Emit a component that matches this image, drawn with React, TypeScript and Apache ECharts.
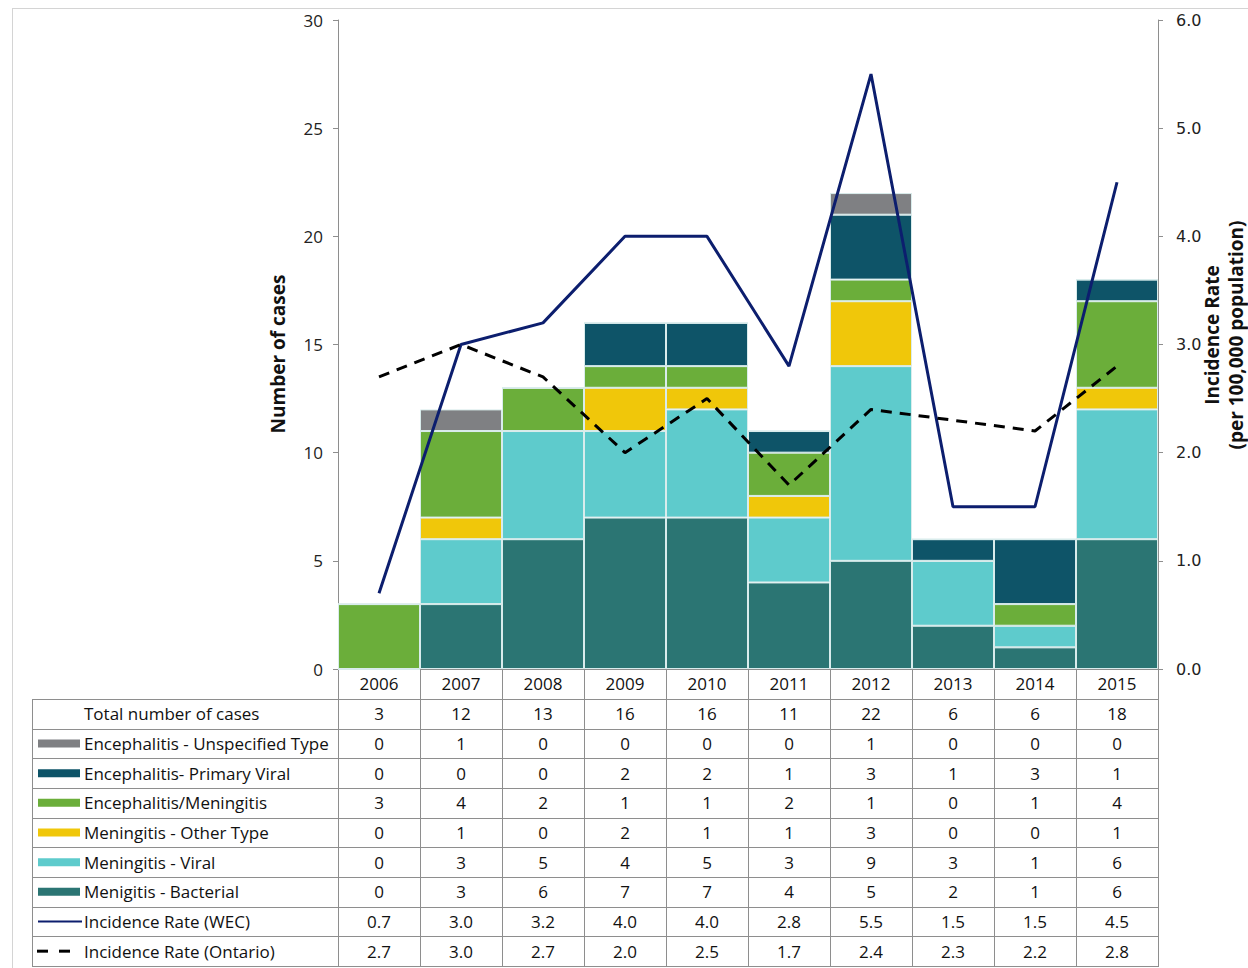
import React, { useEffect, useRef } from "react";
import * as echarts from "echarts";

const years = ["2006", "2007", "2008", "2009", "2010", "2011", "2012", "2013", "2014", "2015"];
const totals = [3, 12, 13, 16, 16, 11, 22, 6, 6, 18];
const unspecified = [0, 1, 0, 0, 0, 0, 1, 0, 0, 0];
const primaryViral = [0, 0, 0, 2, 2, 1, 3, 1, 3, 1];
const encMen = [3, 4, 2, 1, 1, 2, 1, 0, 1, 4];
const menOther = [0, 1, 0, 2, 1, 1, 3, 0, 0, 1];
const menViral = [0, 3, 5, 4, 5, 3, 9, 3, 1, 6];
const menBacterial = [0, 3, 6, 7, 7, 4, 5, 2, 1, 6];
const rateWEC = [0.7, 3.0, 3.2, 4.0, 4.0, 2.8, 5.5, 1.5, 1.5, 4.5];
const rateOntario = [2.7, 3.0, 2.7, 2.0, 2.5, 1.7, 2.4, 2.3, 2.2, 2.8];
const leftTicks = { min: 0, max: 30, interval: 5 };
const rightTicks = { min: 0, max: 6, interval: 1 };

const C = {
  unspecified: "#7f8083",
  primaryViral: "#0e5468",
  encMen: "#6bae3a",
  other: "#f0c70a",
  viral: "#5ecbcc",
  bacterial: "#2b7573",
  wec: "#0c1e6e",
  ont: "#000000",
};

const barSeries = [
  { name: "Menigitis - Bacterial", data: menBacterial, color: C.bacterial },
  { name: "Meningitis - Viral", data: menViral, color: C.viral },
  { name: "Meningitis - Other Type", data: menOther, color: C.other },
  { name: "Encephalitis/Meningitis", data: encMen, color: C.encMen },
  { name: "Encephalitis- Primary Viral", data: primaryViral, color: C.primaryViral },
  { name: "Encephalitis - Unspecified Type", data: unspecified, color: C.unspecified },
];

const tableRows = [
  { label: "Total number of cases", values: totals.map(String), icon: "none", color: "" },
  { label: "Encephalitis - Unspecified Type", values: unspecified.map(String), icon: "rect", color: C.unspecified },
  { label: "Encephalitis- Primary Viral", values: primaryViral.map(String), icon: "rect", color: C.primaryViral },
  { label: "Encephalitis/Meningitis", values: encMen.map(String), icon: "rect", color: C.encMen },
  { label: "Meningitis - Other Type", values: menOther.map(String), icon: "rect", color: C.other },
  { label: "Meningitis - Viral", values: menViral.map(String), icon: "rect", color: C.viral },
  { label: "Menigitis - Bacterial", values: menBacterial.map(String), icon: "rect", color: C.bacterial },
  { label: "Incidence Rate (WEC)", values: rateWEC.map((v) => v.toFixed(1)), icon: "line", color: C.wec },
  { label: "Incidence Rate (Ontario)", values: rateOntario.map((v) => v.toFixed(1)), icon: "dash", color: C.ont },
];

const W = 1248;
const H = 968;
const PLOT_L = 338;
const PLOT_R = 1158;
const PLOT_T = 20;
const PLOT_B = 669;
const HEADER_B = 699;
const TABLE_B = 966;
const TABLE_L = 32;
const FONT = "'Open Sans', 'Noto Sans', sans-serif";
const GRID_COLOR = "#8e8e8e";

export default function App() {
  const ref = useRef<HTMLDivElement>(null);
  useEffect(() => {
    if (!ref.current) return;
    const chart = echarts.init(ref.current, null, { renderer: "svg" });
    const n = years.length;
    const colW = (PLOT_R - PLOT_L) / n;
    const rowH = (TABLE_B - HEADER_B) / tableRows.length;
    const g: any[] = [];
    g.push({ type: "line", shape: { x1: 12, y1: 8.5, x2: W, y2: 8.5 }, style: { stroke: "#d4d4d4", lineWidth: 1 } });
    g.push({ type: "line", shape: { x1: 12.5, y1: 8, x2: 12.5, y2: H }, style: { stroke: "#d4d4d4", lineWidth: 1 } });
    g.push({ type: "line", shape: { x1: PLOT_L, y1: PLOT_B + 0.5, x2: PLOT_R, y2: PLOT_B + 0.5 }, style: { stroke: GRID_COLOR, lineWidth: 1 } });
    for (let i = 0; i <= n; i++) {
      const x = Math.round(PLOT_L + i * colW) + 0.5;
      g.push({ type: "line", shape: { x1: x, y1: PLOT_B, x2: x, y2: TABLE_B }, style: { stroke: GRID_COLOR, lineWidth: 1 } });
    }
    g.push({ type: "line", shape: { x1: TABLE_L + 0.5, y1: HEADER_B, x2: TABLE_L + 0.5, y2: TABLE_B }, style: { stroke: GRID_COLOR, lineWidth: 1 } });
    for (let r = 0; r <= tableRows.length; r++) {
      const y = Math.round(HEADER_B + r * rowH) + 0.5;
      g.push({ type: "line", shape: { x1: TABLE_L, y1: y, x2: PLOT_R + 1, y2: y }, style: { stroke: GRID_COLOR, lineWidth: 1 } });
    }
    tableRows.forEach((row, r) => {
      const cy = HEADER_B + (r + 0.5) * rowH;
      g.push({
        type: "text",
        style: { text: row.label, x: 84, y: cy, textVerticalAlign: "middle", textAlign: "left", font: `17px ${FONT}`, fill: "#111" },
      });
      if (row.icon === "rect") {
        g.push({ type: "rect", shape: { x: 38, y: cy - 4, width: 42, height: 8 }, style: { fill: row.color } });
      } else if (row.icon === "line") {
        g.push({ type: "line", shape: { x1: 38, y1: cy, x2: 82, y2: cy }, style: { stroke: row.color, lineWidth: 2 } });
      } else if (row.icon === "dash") {
        g.push({ type: "line", shape: { x1: 37, y1: cy, x2: 48, y2: cy }, style: { stroke: row.color, lineWidth: 3 } });
        g.push({ type: "line", shape: { x1: 59, y1: cy, x2: 70, y2: cy }, style: { stroke: row.color, lineWidth: 3 } });
      }
      row.values.forEach((v, i) => {
        g.push({
          type: "text",
          style: { text: v, x: PLOT_L + (i + 0.5) * colW, y: cy, textVerticalAlign: "middle", textAlign: "center", font: `17px ${FONT}`, fill: "#111" },
        });
      });
    });
    g.push({
      type: "text",
      x: 278,
      y: 354,
      rotation: Math.PI / 2,
      style: { text: "Number of cases", textAlign: "center", textVerticalAlign: "middle", font: `bold 19px ${FONT}`, fill: "#111" },
    });
    g.push({
      type: "text",
      x: 1212,
      y: 335,
      rotation: Math.PI / 2,
      style: { text: "Incidence Rate", textAlign: "center", textVerticalAlign: "middle", font: `bold 19px ${FONT}`, fill: "#111" },
    });
    g.push({
      type: "text",
      x: 1236,
      y: 335,
      rotation: Math.PI / 2,
      style: { text: "(per 100,000 population)", textAlign: "center", textVerticalAlign: "middle", font: `bold 19px ${FONT}`, fill: "#111" },
    });

    const option: any = {
      animation: false,
      backgroundColor: "#ffffff",
      grid: { left: PLOT_L, right: W - PLOT_R, top: PLOT_T, bottom: H - PLOT_B, containLabel: false },
      xAxis: {
        type: "category",
        data: years,
        axisLine: { show: false },
        axisTick: { show: false },
        axisLabel: { margin: 6, fontSize: 17, fontFamily: FONT, color: "#111" },
      },
      yAxis: [
        {
          type: "value",
          ...leftTicks,
          position: "left",
          axisLine: { show: true, lineStyle: { color: GRID_COLOR } },
          axisTick: { show: true, length: 5, lineStyle: { color: GRID_COLOR } },
          splitLine: { show: false },
          axisLabel: { margin: 15, fontSize: 17, fontFamily: FONT, color: "#222" },
        },
        {
          type: "value",
          ...rightTicks,
          position: "right",
          axisLine: { show: true, lineStyle: { color: GRID_COLOR } },
          axisTick: { show: true, length: 5, lineStyle: { color: GRID_COLOR } },
          splitLine: { show: false },
          axisLabel: { margin: 18, fontSize: 16, fontFamily: "'DejaVu Sans', sans-serif", color: "#222", formatter: (v: number) => v.toFixed(1) },
        },
      ],
      series: [
        ...barSeries.map((s) => ({
          name: s.name,
          type: "bar",
          stack: "cases",
          data: s.data,
          barCategoryGap: "0%",
          itemStyle: { color: s.color, borderColor: "#d9ecec", borderWidth: 1 },
        })),
        {
          name: "Incidence Rate (WEC)",
          type: "line",
          yAxisIndex: 1,
          data: rateWEC,
          showSymbol: false,
          symbol: "none",
          lineStyle: { color: C.wec, width: 3 },
          z: 5,
        },
        {
          name: "Incidence Rate (Ontario)",
          type: "line",
          yAxisIndex: 1,
          data: rateOntario,
          showSymbol: false,
          symbol: "none",
          lineStyle: { color: C.ont, width: 3, type: [11, 8] },
          z: 5,
        },
      ],
      graphic: g,
    };
    chart.setOption(option);
    return () => chart.dispose();
  }, []);
  return (
    <div style={{ position: "fixed", left: 0, top: 0, width: W, height: H, background: "#fff" }}>
      <div ref={ref} style={{ width: W, height: H }} />
    </div>
  );
}
